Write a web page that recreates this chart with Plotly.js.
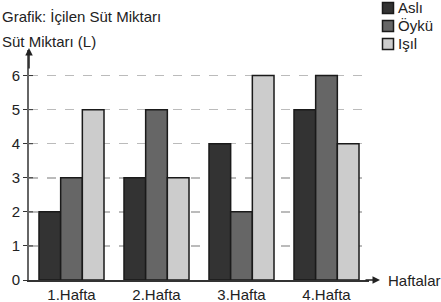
<!DOCTYPE html>
<html><head><meta charset="utf-8">
<script src="https://cdn.plot.ly/plotly-3.0.1.min.js"></script>
<style>html,body{margin:0;padding:0;background:#fff}</style>
</head><body><div id="chart" style="width:441px;height:302px"></div>
<script>
const weeks = ["1.Hafta", "2.Hafta", "3.Hafta", "4.Hafta"];
const asli = [2, 3, 4, 5];
const oyku = [3, 5, 2, 6];
const isil = [5, 3, 6, 4];
const names = ["Aslı", "Öykü", "Işıl"];
const yTicks = [0, 1, 2, 3, 4, 5, 6];
const colors = ["#333333", "#666666", "#cccccc"];
const series = [asli, oyku, isil];
const fam = "Liberation Sans, Arial, sans-serif";
const font15 = () => ({family: fam, size: 15, color: "#222"});
const traces = series.map((s, i) => ({
  type: "bar", x: weeks, y: s, name: names[i], showlegend: false,
  marker: {color: colors[i], line: {color: "#1a1a1a", width: 1.5}}
}));
// pixel helpers for decorations (plot area: x 29..369, y 50..280)
const px = v => (v - 29) / 340;
const py = v => (280 - v) / 230;
const legendRowY = [8, 26, 44];
const shapes = [];
// inner half of the "+" tick marks on the y axis
yTicks.filter(v => v > 0).forEach(v => {
  shapes.push({type: "line", xref: "paper", yref: "y", x0: 0, x1: px(33), y0: v, y1: v,
    line: {color: "#333", width: 1}});
});
const annotations = [
  {xref: "paper", yref: "paper", x: 0, y: py(48), ax: 0, ay: 22, text: "",
   showarrow: true, arrowhead: 2, arrowsize: 1, arrowwidth: 1.5, arrowcolor: "#222"},
  {xref: "paper", yref: "paper", x: px(380), y: 0, ax: -16, ay: 0, text: "",
   showarrow: true, arrowhead: 2, arrowsize: 1, arrowwidth: 1.5, arrowcolor: "#222"},
  {xref: "paper", yref: "paper", x: px(386), y: 0, xanchor: "left", yanchor: "middle",
   text: "Haftalar", showarrow: false, font: font15()},
  {xref: "paper", yref: "paper", x: px(0), y: py(41), xanchor: "left", yanchor: "middle",
   text: "Süt Miktarı (L)", showarrow: false, font: font15()}
];
names.forEach((n, i) => {
  const cy = legendRowY[i];
  shapes.push({type: "rect", xref: "paper", yref: "paper",
    x0: px(382.5), x1: px(393.5), y0: py(cy + 5.5), y1: py(cy - 5.5),
    fillcolor: colors[i], line: {color: "#1a1a1a", width: 1.5}});
  annotations.push({xref: "paper", yref: "paper", x: px(396), y: py(cy), xanchor: "left",
    yanchor: "middle", text: n, showarrow: false, font: font15()});
});
const layout = {
  width: 441, height: 302,
  margin: {l: 29, r: 72, t: 50, b: 22, autoexpand: false},
  paper_bgcolor: "#fff", plot_bgcolor: "#fff",
  font: font15(),
  barmode: "group", bargap: 0.235, bargroupgap: 0,
  showlegend: false,
  title: {text: "Grafik: İçilen Süt Miktarı", x: 2/441, xanchor: "left", xref: "container",
          y: 1 - 17/302, yanchor: "middle", yref: "container", font: font15()},
  xaxis: {range: [-0.5, 3.5], showline: true, linecolor: "#333", linewidth: 1.5,
          ticks: "", showgrid: false, zeroline: false, tickfont: font15(), fixedrange: true},
  yaxis: {range: [0, 6.75], showline: true, linecolor: "#666", linewidth: 2,
          tickvals: yTicks, ticks: "outside", ticklen: 4, tickcolor: "#333",
          showgrid: true, gridcolor: "#bbbbbb", griddash: "dash", gridwidth: 1.5,
          zeroline: false, tickfont: font15(), fixedrange: true},
  shapes: shapes,
  annotations: annotations
};
Plotly.newPlot("chart", traces, layout, {displayModeBar: false, staticPlot: true});
</script></body></html>
